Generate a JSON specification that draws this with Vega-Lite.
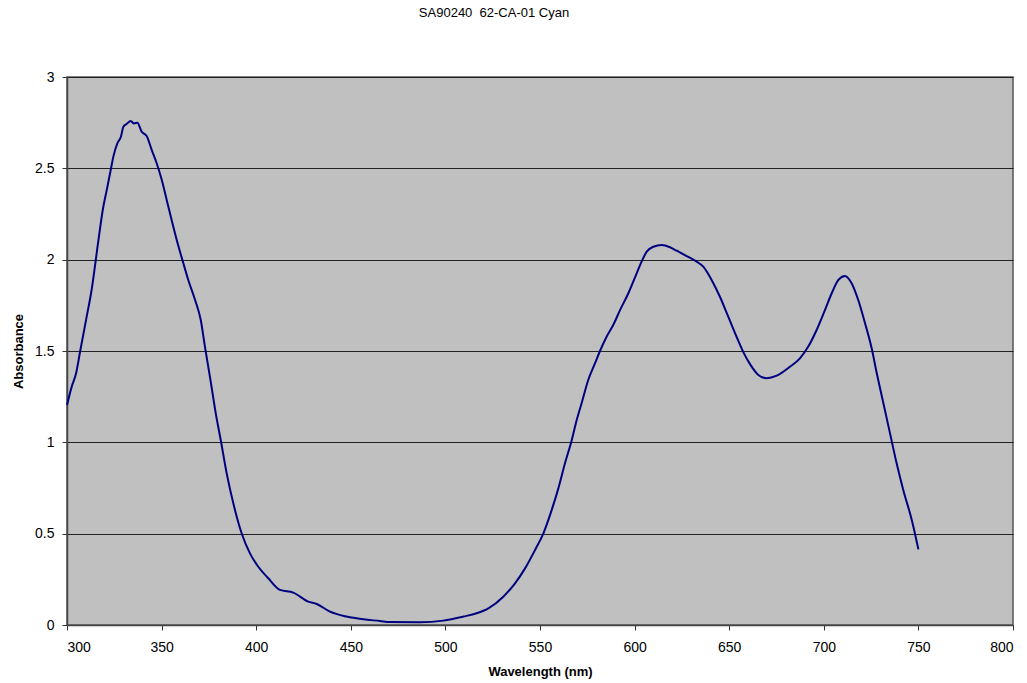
{
  "$schema": "https://vega.github.io/schema/vega-lite/v6.json",
  "autosize": {"type": "none"},
  "padding": {"left": 67, "top": 77, "right": 14, "bottom": 58},
  "width": 946,
  "height": 548,
  "background": "white",
  "title": {
    "text": "SA90240\u00a0\u00a062-CA-01 Cyan",
    "font": "Liberation Sans",
    "fontSize": 13,
    "fontWeight": "normal",
    "color": "black",
    "anchor": "middle",
    "dx": -46,
    "offset": 50
  },
  "config": {
    "view": {"fill": "#C0C0C0", "stroke": "#555555", "strokeWidth": 1.5},
    "axis": {
      "labelFont": "Liberation Sans",
      "labelFontSize": 14,
      "labelColor": "black",
      "titleFont": "Liberation Sans",
      "titleFontSize": 13,
      "titleFontWeight": "bold",
      "titleColor": "black",
      "tickColor": "#333333",
      "tickSize": 5,
      "domainColor": "#444444",
      "domainWidth": 1.5
    }
  },
  "data": {
    "values": [
      {"nm": 300, "abs": 1.204},
      {"nm": 302.5, "abs": 1.305},
      {"nm": 304.8, "abs": 1.378},
      {"nm": 306.9, "abs": 1.496},
      {"nm": 310.4, "abs": 1.688},
      {"nm": 313.0, "abs": 1.834},
      {"nm": 315.2, "abs": 1.998},
      {"nm": 317.1, "abs": 2.144},
      {"nm": 318.9, "abs": 2.272},
      {"nm": 321.0, "abs": 2.381},
      {"nm": 323.1, "abs": 2.491},
      {"nm": 324.5, "abs": 2.564},
      {"nm": 326.6, "abs": 2.637},
      {"nm": 328.5, "abs": 2.673},
      {"nm": 329.8, "abs": 2.728},
      {"nm": 331.5, "abs": 2.743},
      {"nm": 333.7, "abs": 2.759},
      {"nm": 335.4, "abs": 2.746},
      {"nm": 337.2, "abs": 2.75},
      {"nm": 339.5, "abs": 2.7},
      {"nm": 342.1, "abs": 2.677},
      {"nm": 344.8, "abs": 2.6},
      {"nm": 347.4, "abs": 2.528},
      {"nm": 350.1, "abs": 2.436},
      {"nm": 352.7, "abs": 2.327},
      {"nm": 355.3, "abs": 2.217},
      {"nm": 358.0, "abs": 2.108},
      {"nm": 361.5, "abs": 1.98},
      {"nm": 364.1, "abs": 1.889},
      {"nm": 367.7, "abs": 1.779},
      {"nm": 370.7, "abs": 1.67},
      {"nm": 372.9, "abs": 1.524},
      {"nm": 376.0, "abs": 1.33},
      {"nm": 378.6, "abs": 1.16},
      {"nm": 381.3, "abs": 1.01},
      {"nm": 384.4, "abs": 0.83},
      {"nm": 387.9, "abs": 0.666},
      {"nm": 392.3, "abs": 0.502},
      {"nm": 396.7, "abs": 0.392},
      {"nm": 401.1, "abs": 0.319},
      {"nm": 406.4, "abs": 0.256},
      {"nm": 412.6, "abs": 0.192},
      {"nm": 419.6, "abs": 0.177},
      {"nm": 427.5, "abs": 0.128},
      {"nm": 432.0, "abs": 0.115},
      {"nm": 439.0, "abs": 0.073},
      {"nm": 447.8, "abs": 0.046},
      {"nm": 456.6, "abs": 0.031},
      {"nm": 465.4, "abs": 0.022},
      {"nm": 470.7, "abs": 0.016},
      {"nm": 486.6, "abs": 0.015},
      {"nm": 498.9, "abs": 0.024},
      {"nm": 509.5, "abs": 0.046},
      {"nm": 516.5, "abs": 0.064},
      {"nm": 522.7, "abs": 0.091},
      {"nm": 530.6, "abs": 0.155},
      {"nm": 536.8, "abs": 0.228},
      {"nm": 542.1, "abs": 0.31},
      {"nm": 547.4, "abs": 0.411},
      {"nm": 551.8, "abs": 0.502},
      {"nm": 556.2, "abs": 0.63},
      {"nm": 559.7, "abs": 0.748},
      {"nm": 563.2, "abs": 0.885},
      {"nm": 566.8, "abs": 1.013},
      {"nm": 569.4, "abs": 1.122},
      {"nm": 572.0, "abs": 1.214},
      {"nm": 575.5, "abs": 1.341},
      {"nm": 579.1, "abs": 1.433},
      {"nm": 581.7, "abs": 1.5},
      {"nm": 585.2, "abs": 1.578},
      {"nm": 588.7, "abs": 1.642},
      {"nm": 592.3, "abs": 1.724},
      {"nm": 596.7, "abs": 1.816},
      {"nm": 601.1, "abs": 1.925},
      {"nm": 603.7, "abs": 1.989},
      {"nm": 606.4, "abs": 2.044},
      {"nm": 609.9, "abs": 2.071},
      {"nm": 614.3, "abs": 2.08},
      {"nm": 618.7, "abs": 2.068},
      {"nm": 622.2, "abs": 2.049},
      {"nm": 627.5, "abs": 2.02},
      {"nm": 632.8, "abs": 1.989},
      {"nm": 636.3, "abs": 1.962},
      {"nm": 640.7, "abs": 1.889},
      {"nm": 645.1, "abs": 1.797},
      {"nm": 649.5, "abs": 1.688},
      {"nm": 653.9, "abs": 1.578},
      {"nm": 657.4, "abs": 1.495},
      {"nm": 661.0, "abs": 1.428},
      {"nm": 665.4, "abs": 1.369},
      {"nm": 669.8, "abs": 1.351},
      {"nm": 675.1, "abs": 1.365},
      {"nm": 682.1, "abs": 1.414},
      {"nm": 687.4, "abs": 1.46},
      {"nm": 691.8, "abs": 1.524},
      {"nm": 696.2, "abs": 1.615},
      {"nm": 700.6, "abs": 1.724},
      {"nm": 704.2, "abs": 1.816},
      {"nm": 707.7, "abs": 1.889},
      {"nm": 711.2, "abs": 1.911},
      {"nm": 714.7, "abs": 1.871},
      {"nm": 718.2, "abs": 1.779},
      {"nm": 721.8, "abs": 1.652},
      {"nm": 725.3, "abs": 1.515},
      {"nm": 728.0, "abs": 1.378},
      {"nm": 731.5, "abs": 1.214},
      {"nm": 735.0, "abs": 1.049},
      {"nm": 738.5, "abs": 0.885},
      {"nm": 742.0, "abs": 0.739},
      {"nm": 746.5, "abs": 0.575},
      {"nm": 750.0, "abs": 0.414}
    ]
  },
  "mark": {"type": "line", "color": "#000080", "strokeWidth": 2, "interpolate": "monotone"},
  "encoding": {
    "x": {
      "field": "nm",
      "type": "quantitative",
      "scale": {"domain": [300, 800], "nice": false, "zero": false},
      "axis": {
        "title": "Wavelength (nm)",
        "values": [300, 350, 400, 450, 500, 550, 600, 650, 700, 750, 800],
        "grid": false,
        "labelPadding": 10,
        "titlePadding": 11
      }
    },
    "y": {
      "field": "abs",
      "type": "quantitative",
      "scale": {"domain": [0, 3], "nice": false},
      "axis": {
        "title": "Absorbance",
        "values": [0, 0.5, 1, 1.5, 2, 2.5, 3],
        "format": "~g",
        "grid": true,
        "gridColor": "#222222",
        "gridWidth": 1,
        "labelPadding": 8,
        "titlePadding": 9
      }
    }
  }
}
